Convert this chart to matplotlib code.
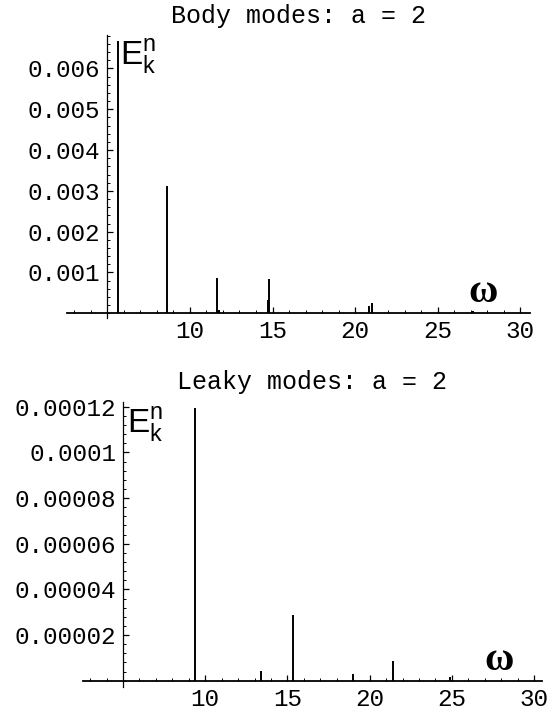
import matplotlib
matplotlib.use("Agg")
import matplotlib.pyplot as plt
from matplotlib.ticker import FixedLocator, MultipleLocator

plt.rcParams["mathtext.fontset"] = "custom"
plt.rcParams["mathtext.rm"] = "Liberation Sans"
plt.rcParams["mathtext.it"] = "Liberation Sans"

# Body modes: spectral energy per frequency
body_omega = [5.655, 8.588, 11.655, 11.78, 14.75, 14.79, 17.9, 20.87, 21.03, 27.13]
body_energy = [0.00668, 0.003127, 0.000873, 0.00008, 0.00033, 0.000833, 0.00001,
               0.00018, 0.00026, 0.00006]

# Leaky modes: spectral energy per frequency
leaky_omega = [9.41, 13.39, 15.32, 19.01, 21.39, 24.88]
leaky_energy = [0.0001194, 0.0000043, 0.0000288, 0.0000029, 0.0000088, 0.0000015]

x_ticks = [10, 15, 20, 25, 30]
x_tick_labels = ["10", "15", "20", "25", "30"]
body_yticks = [0.001, 0.002, 0.003, 0.004, 0.005, 0.006]
body_ylabels = ["0.001", "0.002", "0.003", "0.004", "0.005", "0.006"]
leaky_yticks = [0.00002, 0.00004, 0.00006, 0.00008, 0.0001, 0.00012]
leaky_ylabels = ["0.00002", "0.00004", "0.00006", "0.00008", "0.0001", "0.00012"]

W, H = 551, 715
fig = plt.figure(figsize=(W / 100, H / 100), dpi=100)

mono = "Liberation Mono"
tick_fs = 17.5


def px_rect(left, top, right, bottom):
    return [left / W, 1 - bottom / H, (right - left) / W, (bottom - top) / H]


def style_axes(ax, xlim, ylim, yticks, ylabels, ystep_minor, title):
    ax.set_xlim(*xlim)
    ax.set_ylim(*ylim)
    for s in ("top", "right"):
        ax.spines[s].set_visible(False)
    ax.spines["bottom"].set_position(("data", 0))
    ax.spines["left"].set_position(("data", 5))
    ax.spines["bottom"].set_linewidth(1.3)
    ax.spines["left"].set_linewidth(0.9)
    ax.xaxis.set_major_locator(FixedLocator(x_ticks))
    ax.set_xticklabels(x_tick_labels, fontfamily=mono, fontsize=tick_fs)
    ax.xaxis.set_minor_locator(MultipleLocator(1))
    ax.yaxis.set_major_locator(FixedLocator(yticks))
    ax.set_yticklabels(ylabels, fontfamily=mono, fontsize=tick_fs)
    ax.yaxis.set_minor_locator(MultipleLocator(ystep_minor))
    ax.tick_params(which="major", direction="in", length=4, width=0.9, pad=5)
    ax.tick_params(which="minor", direction="in", length=2.2, width=0.7)
    ax.set_title(title, fontfamily=mono, fontsize=18, pad=9)


# Upper panel
ax1 = fig.add_axes(px_rect(67, 35, 530, 318))
ax1.vlines(body_omega, 0, body_energy, color="black", lw=1.4)
style_axes(ax1, (2.55, 30.6), (-0.000115, 0.00682), body_yticks, body_ylabels,
           0.0002, "Body modes: a = 2")

# Lower panel
ax2 = fig.add_axes(px_rect(83, 401.7, 541.7, 686.7))
ax2.vlines(leaky_omega, 0, leaky_energy, color="black", lw=1.4)
style_axes(ax2, (2.57, 30.46), (-0.0000026, 0.0001222), leaky_yticks, leaky_ylabels,
           0.000004, "Leaky modes: a = 2")

# Axis labels at the ends of the axes
lab_fs = 24
fig.text(120 / W, 1 - 65 / H, r"$\mathrm{E}_\mathrm{k}^\mathrm{n}$", fontsize=lab_fs,
         ha="left", va="baseline")
fig.text(127 / W, 1 - 433 / H, r"$\mathrm{E}_\mathrm{k}^\mathrm{n}$", fontsize=lab_fs,
         ha="left", va="baseline")
fig.text(483 / W, 1 - 293 / H, "\u03c9", fontfamily="Liberation Serif", fontweight="bold",
         fontsize=29, ha="center", va="center")
fig.text(499 / W, 1 - 660 / H, "\u03c9", fontfamily="Liberation Serif", fontweight="bold",
         fontsize=29, ha="center", va="center")

fig.savefig("out.png", dpi=100)
